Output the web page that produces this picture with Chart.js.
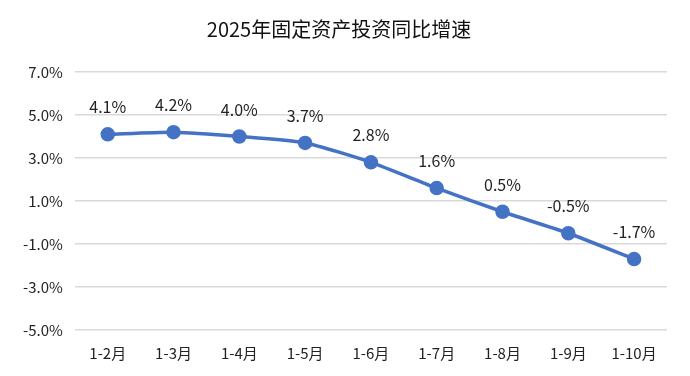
<!DOCTYPE html>
<html>
<head>
<meta charset="utf-8">
<script src="https://cdn.jsdelivr.net/npm/chart.js@4/dist/chart.umd.min.js"></script>
<style>
  html, body { margin: 0; padding: 0; background: #fff; }
  #wrap { width: 690px; height: 376px; }
</style>
</head>
<body>
<div id="wrap"><canvas id="mycanvas" width="690" height="376"></canvas></div>
<script>
var months = ['1-2月', '1-3月', '1-4月', '1-5月', '1-6月', '1-7月', '1-8月', '1-9月', '1-10月'];
var growth = [4.1, 4.2, 4.0, 3.7, 2.8, 1.6, 0.5, -0.5, -1.7];
var yTicks = [-5, -3, -1, 1, 3, 5, 7];

var fontName = "'Noto Sans CJK SC', 'Noto Sans', sans-serif";

// draw value labels above each point
var pointLabels = {
	id: 'pointLabels',
	afterDatasetsDraw: function(chart) {
		var ctx = chart.ctx;
		var meta = chart.getDatasetMeta(0);
		ctx.save();
		ctx.font = '16px ' + fontName;
		ctx.fillStyle = '#222';
		ctx.textAlign = 'center';
		ctx.textBaseline = 'middle';
		meta.data.forEach(function(pt, i) {
			ctx.fillText(growth[i].toFixed(1) + '%', pt.x, pt.y - 27);
		});
		ctx.restore();
	}
};

var ctx = document.getElementById('mycanvas');

var lineChart = new Chart(ctx, {
	type: 'line',
	data: {
		labels: months,
		datasets: [
			{
				label: '同比增速',
				data: growth,
				borderColor: '#4472C4',
				backgroundColor: '#4472C4',
				borderWidth: 3.5,
				pointRadius: 5.5,
				pointHoverRadius: 5.5,
				pointBackgroundColor: '#4472C4',
				pointBorderColor: '#4472C4',
				tension: 0.2,
				fill: false
			}
		]
	},
	options: {
		responsive: false,
		animation: false,
		layout: { padding: { left: 11, right: 23, top: 8, bottom: 8 } },
		plugins: {
			legend: { display: false },
			tooltip: { enabled: false },
			title: {
				display: true,
				text: '2025年固定资产投资同比增速',
				color: '#111',
				font: { family: fontName, size: 20, weight: 'normal' },
				padding: { top: 9, bottom: 31 }
			}
		},
		scales: {
			x: {
				offset: true,
				grid: { display: false },
				border: { display: false },
				ticks: {
					color: '#222',
					font: { family: fontName, size: 15 },
					padding: 6,
					maxRotation: 0
				}
			},
			y: {
				min: -5,
				max: 7,
				afterBuildTicks: function(axis) {
					axis.ticks = yTicks.map(function(v) { return { value: v }; });
				},
				grid: { color: '#d9d9d9', lineWidth: 1.5, drawTicks: false },
				border: { display: false },
				ticks: {
					color: '#222',
					font: { family: fontName, size: 15 },
					padding: 12,
					callback: function(v) { return v.toFixed(1) + '%'; }
				}
			}
		}
	},
	plugins: [pointLabels]
});
</script>
</body>
</html>
